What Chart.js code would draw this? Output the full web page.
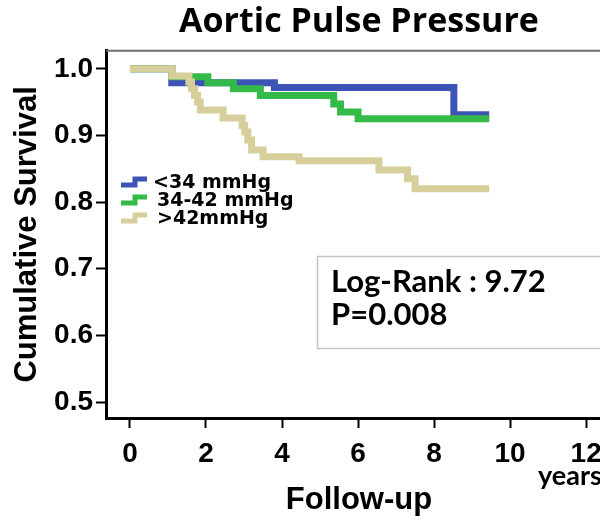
<!DOCTYPE html>
<html>
<head>
<meta charset="utf-8">
<script src="https://cdn.jsdelivr.net/npm/chart.js@4/dist/chart.umd.min.js"></script>
<style>
  html, body { margin: 0; padding: 0; background: #fff; }
  #wrap { width: 600px; height: 520px; overflow: hidden; position: relative; }
</style>
</head>
<body>
<div id="wrap"><canvas id="kmChart" width="620" height="520" style="width:620px;height:520px"></canvas></div>
<script>
// Kaplan-Meier curves (years, survival)
const groupLabels = ['<34 mmHg', '34-42 mmHg', '>42mmHg'];

const lowTimes = [0, 1.1, 3.8, 8.52, 9.45];
const lowSurv = [1.0, 0.979, 0.972, 0.931, 0.931];

const midTimes = [0, 1.1, 2.05, 2.72, 3.43, 5.36, 5.54, 6.0, 9.45];
const midSurv = [1.0, 0.988, 0.979, 0.970, 0.960, 0.947, 0.935, 0.925, 0.925];

const highTimes = [0, 1.1, 1.55, 1.62, 1.7, 1.78, 1.85, 2.45, 2.95, 3.02, 3.1, 3.2, 3.5, 4.45, 6.55, 7.3, 7.5, 9.45];
const highSurv = [1.0, 0.989, 0.98, 0.97, 0.96, 0.95, 0.938, 0.926, 0.915, 0.905, 0.893, 0.878, 0.868, 0.862, 0.848, 0.835, 0.82, 0.82];

const xTickValues = [0, 2, 4, 6, 8, 10, 12];
const yTickValues = [0.5, 0.6, 0.7, 0.8, 0.9, 1.0];

const statLines = ['Log-Rank : 9.72', 'P=0.008'];

const colors = ['#3b54b6', '#34ba48', '#d6cf9b'];

function toPoints(times, surv) {
    return times.map((t, i) => ({ x: t, y: surv[i] }));
}

const overlay = {
    id: 'overlay',
    afterDraw(chart) {
        const { ctx, chartArea: a } = chart;
        ctx.save();

        // top frame line
        ctx.strokeStyle = '#6e6e6e';
        ctx.lineWidth = 2;
        ctx.beginPath();
        ctx.moveTo(a.left, a.top);
        ctx.lineTo(a.right + 10, a.top);
        ctx.stroke();

        // legend with little step icons
        ctx.font = 'bold 19px "DejaVu Sans"';
        ctx.textBaseline = 'alphabetic';
        chart.data.datasets.forEach((ds, i) => {
            const y = 182 + i * 18;
            ctx.strokeStyle = ds.borderColor;
            ctx.lineWidth = 5;
            ctx.lineJoin = 'miter';
            ctx.beginPath();
            ctx.moveTo(121, y + 3);
            ctx.lineTo(135, y + 3);
            ctx.lineTo(135, y - 3);
            ctx.lineTo(147, y - 3);
            ctx.stroke();
            ctx.fillStyle = '#000';
            ctx.fillText(ds.label, i === 0 ? 153 : 157, y + 6);
        });

        // stats box
        ctx.strokeStyle = '#c4c4c4';
        ctx.lineWidth = 1.5;
        ctx.strokeRect(317.5, 256.5, 320, 92);
        ctx.fillStyle = '#000';
        ctx.font = 'bold 31px Lato';
        ctx.fillText(statLines[0], 331, 292);
        ctx.fillText(statLines[1], 331, 325);

        // unit label
        ctx.font = 'bold 27px Lato';
        ctx.fillText('years', 538, 485);

        ctx.restore();
    }
};

const ctx = document.getElementById('kmChart').getContext('2d');

new Chart(ctx, {
    type: 'line',
    data: {
        datasets: [
            { label: groupLabels[0], data: toPoints(lowTimes, lowSurv), order: 2 },
            { label: groupLabels[1], data: toPoints(midTimes, midSurv), order: 1 },
            { label: groupLabels[2], data: toPoints(highTimes, highSurv), order: 0 }
        ].map((ds, i) => ({
            ...ds,
            borderColor: colors[i],
            backgroundColor: colors[i],
            borderWidth: 7,
            stepped: 'before',
            pointRadius: 0,
            fill: false,
            borderJoinStyle: 'miter',
            borderCapStyle: 'butt'
        }))
    },
    options: {
        responsive: false,
        animation: false,
        devicePixelRatio: 1,
        layout: { padding: { left: 0, right: 8, top: 0, bottom: 0 } },
        plugins: {
            legend: { display: false },
            tooltip: { enabled: false },
            title: {
                display: true,
                text: 'Aortic Pulse Pressure',
                fullSize: false,
                color: '#000',
                font: { family: '"Open Sans"', size: 34, weight: 'bold' },
                padding: { top: 2, bottom: 8 }
            }
        },
        scales: {
            x: {
                type: 'linear',
                min: -0.63,
                max: 12.68,
                afterBuildTicks: s => { s.ticks = xTickValues.map(v => ({ value: v })); },
                afterFit: s => { s.height = 102; },
                grid: { drawOnChartArea: false, drawTicks: true, tickLength: 10, tickColor: '#000', tickWidth: 2 },
                border: { display: true, color: '#000', width: 3 },
                ticks: {
                    color: '#000',
                    padding: 9,
                    maxRotation: 0,
                    autoSkip: false,
                    font: { family: '"Liberation Sans"', size: 28, weight: 'bold' }
                },
                title: {
                    display: true,
                    text: 'Follow-up',
                    color: '#000',
                    font: { family: '"Liberation Sans"', size: 31, weight: 'bold' },
                    padding: { top: 0, bottom: 1 }
                }
            },
            y: {
                min: 0.476,
                max: 1.027,
                afterBuildTicks: s => { s.ticks = yTickValues.map(v => ({ value: v })); },
                afterFit: s => { s.width = 106; },
                grid: { drawOnChartArea: false, drawTicks: true, tickLength: 10, tickColor: '#000', tickWidth: 2 },
                border: { display: true, color: '#000', width: 3 },
                ticks: {
                    color: '#000',
                    padding: 3,
                    autoSkip: false,
                    font: { family: '"Liberation Sans"', size: 28, weight: 'bold' },
                    callback: v => v.toFixed(1)
                },
                title: {
                    display: true,
                    text: 'Cumulative Survival',
                    color: '#000',
                    font: { family: '"Liberation Sans"', size: 31, weight: 'bold' },
                    padding: { top: 9, bottom: 0 }
                }
            }
        }
    },
    plugins: [overlay]
});
</script>
</body>
</html>
